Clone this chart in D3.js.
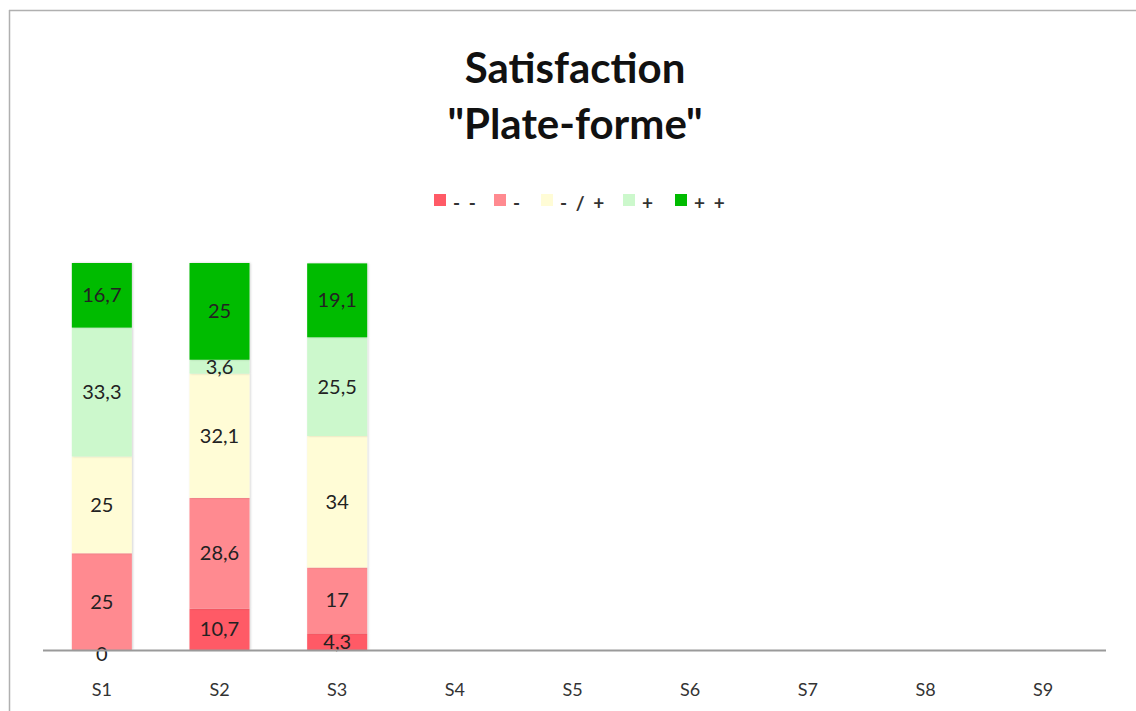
<!DOCTYPE html>
<html>
<head>
<meta charset="utf-8">
<script src="https://cdn.jsdelivr.net/npm/d3@7"></script>
<style>
  html, body { margin: 0; padding: 0; background: #fff; }
  svg { display: block; }
</style>
</head>
<body>
<svg id="chart" width="1136" height="711"></svg>
<script>
const categories = ["S1", "S2", "S3", "S4", "S5", "S6", "S7", "S8", "S9"];
const seriesNames = ["- -", "-", "- / +", "+", "+ +"];
const seriesColors = ["#FF5A66", "#FF8A90", "#FFFCD6", "#CCF8CC", "#00BB00"];
// values per series, per category (null = no data)
const vMinusMinus = [0, 10.7, 4.3, null, null, null, null, null, null];
const vMinus      = [25, 28.6, 17, null, null, null, null, null, null];
const vNeutral    = [25, 32.1, 34, null, null, null, null, null, null];
const vPlus       = [33.3, 3.6, 25.5, null, null, null, null, null, null];
const vPlusPlus   = [16.7, 25, 19.1, null, null, null, null, null, null];
const seriesValues = [vMinusMinus, vMinus, vNeutral, vPlus, vPlusPlus];
const titleLines = ["Satisfaction", "\"Plate-forme\""];

const svg = d3.select("#chart");
const font = "Lato, 'Open Sans', sans-serif";

// outer frame (partially visible border)
svg.append("line").attr("x1", 9.5).attr("x2", 9.5).attr("y1", 10).attr("y2", 711)
  .attr("stroke", "#b0b0b0").attr("stroke-width", 1.5);
svg.append("line").attr("x1", 9).attr("x2", 1136).attr("y1", 10.5).attr("y2", 10.5)
  .attr("stroke", "#b0b0b0").attr("stroke-width", 1.5);

// title
svg.append("text").attr("x", 575).attr("y", 83).attr("text-anchor", "middle")
  .attr("font-family", font).attr("font-weight", "bold").attr("font-size", 42)
  .attr("fill", "#111").text(titleLines[0]);
svg.append("text").attr("x", 575).attr("y", 139).attr("text-anchor", "middle")
  .attr("font-family", font).attr("font-weight", "bold").attr("font-size", 42)
  .attr("fill", "#111").text(titleLines[1]);

const x = d3.scaleBand().domain(categories).range([43, 1102]).paddingInner(0.49).paddingOuter(0.245);
const y = d3.scaleLinear().domain([0, 100]).range([650, 263]);

// stack
const rows = categories.map((c, i) => {
  const r = { cat: c };
  seriesNames.forEach((s, k) => r[s] = seriesValues[k][i]);
  return r;
});
const stack = d3.stack().keys(seriesNames).value((d, key) => d[key] == null ? 0 : d[key]);
const stacked = stack(rows);

const defs = svg.append("defs");
const f = defs.append("filter").attr("id", "shadow").attr("x", "-10%").attr("y", "-10%").attr("width", "130%").attr("height", "130%");
f.append("feDropShadow").attr("dx", 1).attr("dy", 0).attr("stdDeviation", 1.2).attr("flood-color", "#000").attr("flood-opacity", 0.18);

const g = svg.append("g");
stacked.forEach((layer, k) => {
  g.selectAll(null).data(layer.filter(d => d.data[seriesNames[k]] != null && d.data[seriesNames[k]] > 0))
    .enter().append("rect")
    .attr("x", d => x(d.data.cat))
    .attr("width", x.bandwidth())
    .attr("y", d => y(d[1]))
    .attr("height", d => y(d[0]) - y(d[1]))
    .attr("fill", seriesColors[k])
    .attr("filter", "url(#shadow)");
});

// axis line
svg.append("line").attr("x1", 43).attr("x2", 1106).attr("y1", y(0) + 0.5).attr("y2", y(0) + 0.5)
  .attr("stroke", "#9a9a9a").attr("stroke-width", 2);

// data labels
stacked.forEach((layer, k) => {
  g.selectAll(null).data(layer.filter(d => d.data[seriesNames[k]] != null))
    .enter().append("text")
    .attr("x", d => x(d.data.cat) + x.bandwidth() / 2)
    .attr("y", d => (y(d[0]) + y(d[1])) / 2 + 7 + (d[1] - d[0] === 0 ? 4 : 0))
    .attr("text-anchor", "middle")
    .attr("font-family", font).attr("font-size", 20)
    .attr("fill", "#222")
    .text(d => String(d.data[seriesNames[k]]).replace(".", ","));
});

// x axis labels
const xAxis = d3.axisBottom(x).tickSize(0).tickPadding(0);
const ax = svg.append("g").attr("transform", `translate(0, ${y(0)})`).call(xAxis);
ax.select(".domain").remove();
ax.selectAll("text").attr("font-family", font).attr("font-size", 18).attr("fill", "#333")
  .attr("dy", null).attr("y", 46);

// legend
const legendX = [434, 494, 541, 623, 675];
const lg = svg.append("g");
seriesNames.forEach((s, k) => {
  lg.append("rect").attr("x", legendX[k]).attr("y", 194).attr("width", 12).attr("height", 12)
    .attr("fill", seriesColors[k]);
  lg.append("text").attr("x", legendX[k] + 19).attr("y", 210)
    .attr("font-family", font).attr("font-size", 19).attr("font-weight", "bold").attr("fill", "#333")
    .attr("letter-spacing", 2)
    .text(s);
});
</script>
</body>
</html>
